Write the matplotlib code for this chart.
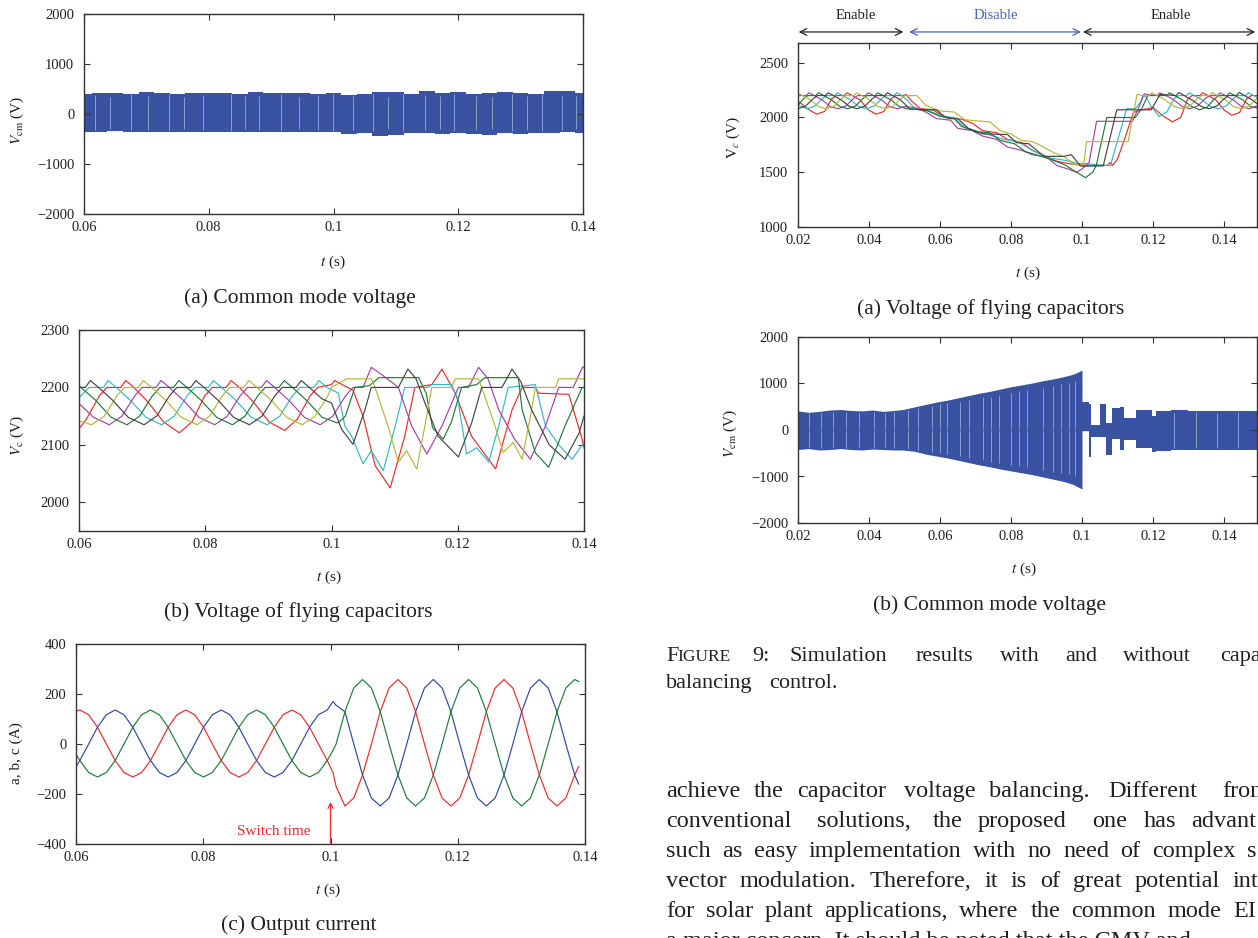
import matplotlib
matplotlib.use('Agg')
import matplotlib.pyplot as plt

# ---------------- data ----------------
# Left (a): common mode voltage envelope (V)
cmvL_t = [0.060, 0.0625, 0.065, 0.0675, 0.070, 0.0725, 0.075, 0.0775, 0.080, 0.0825, 0.085,
          0.0875, 0.090, 0.0925, 0.095, 0.0975, 0.100, 0.1025, 0.105, 0.1075, 0.110, 0.1125,
          0.115, 0.1175, 0.120, 0.1225, 0.125, 0.1275, 0.130, 0.1325, 0.135, 0.1375, 0.140]
cmvL_top = [400, 420, 410, 400, 430, 425, 400, 420, 410, 415, 400, 430, 420, 410, 420, 400, 410,
            380, 400, 440, 430, 400, 450, 410, 440, 400, 420, 440, 410, 400, 460, 450, 410]
cmvL_bot = [-360, -360, -350, -365, -355, -360, -370, -360, -355, -365, -370, -360, -355, -370,
            -360, -355, -370, -400, -390, -440, -420, -380, -380, -400, -380, -410, -420, -390,
            -400, -380, -390, -370, -390]
gapL_t = [0.0618, 0.0642, 0.0675, 0.0702, 0.0737, 0.0760, 0.0791, 0.0836, 0.0858, 0.0881, 0.0916,
          0.0944, 0.0975, 0.0999, 0.1031, 0.1063, 0.1088, 0.1112, 0.1146, 0.1170, 0.1193, 0.1228,
          0.1254, 0.1286, 0.1310, 0.1334, 0.1366, 0.1388]
gapL_lo = [-330, -300, -340, -320, -340, -300, -330, -340, -310, -320, -340, -300, -330, -340,
           -320, -340, -300, -340, -330, -310, -340, -320, -300, -340, -320, -340, -330, -310]
gapL_hi = [370, 330, 390, 350, 390, 340, 370, 390, 350, 360, 390, 340, 370, 390, 360, 390, 340,
           390, 370, 350, 390, 360, 340, 390, 360, 390, 370, 350]

# Left (b): flying capacitor voltages (V)
lb_red_t = [0.0600, 0.0612, 0.0632, 0.0644, 0.0666, 0.0674, 0.0687, 0.0709, 0.0734, 0.0759, 0.0779,
            0.0799, 0.0811, 0.0833, 0.0841, 0.0854, 0.0876, 0.0901, 0.0926, 0.0946, 0.0966, 0.0978,
            0.1000, 0.1005, 0.1034, 0.1050, 0.1069, 0.1093, 0.1116, 0.1132, 0.1159, 0.1175, 0.1196,
            0.1222, 0.1260, 0.1286, 0.1302, 0.1323, 0.1328, 0.1376, 0.1397, 0.1400]
lb_red_v = [2128, 2145, 2185, 2200, 2200, 2212, 2200, 2175, 2140, 2121, 2140, 2185, 2200, 2200, 2212,
            2200, 2175, 2140, 2125, 2145, 2185, 2200, 2205, 2212, 2195, 2150, 2064, 2025, 2115, 2200,
            2205, 2232, 2190, 2115, 2058, 2161, 2200, 2200, 2190, 2188, 2110, 2095]
lb_mag_t = [0.0600, 0.0623, 0.0648, 0.0668, 0.0688, 0.0700, 0.0722, 0.0730, 0.0743, 0.0765, 0.0790,
            0.0815, 0.0835, 0.0855, 0.0867, 0.0889, 0.0897, 0.0910, 0.0932, 0.0957, 0.0982, 0.1002,
            0.1022, 0.1034, 0.1050, 0.1063, 0.1080, 0.1106, 0.1127, 0.1151, 0.1175, 0.1201, 0.1217,
            0.1233, 0.1248, 0.1265, 0.1290, 0.1315, 0.1339, 0.1360, 0.1383, 0.1398, 0.1400]
lb_mag_v = [2172, 2148, 2135, 2150, 2185, 2200, 2200, 2212, 2200, 2178, 2148, 2135, 2150, 2185, 2200,
            2200, 2212, 2200, 2178, 2148, 2135, 2150, 2185, 2200, 2200, 2235, 2222, 2200, 2133, 2084,
            2133, 2200, 2200, 2235, 2215, 2161, 2110, 2075, 2133, 2200, 2200, 2236, 2234]
lb_grn_t = [0.0600, 0.0626, 0.0651, 0.0676, 0.0696, 0.0716, 0.0728, 0.0750, 0.0758, 0.0771, 0.0793,
            0.0818, 0.0843, 0.0863, 0.0883, 0.0895, 0.0917, 0.0925, 0.0938, 0.0960, 0.0985, 0.1010,
            0.1022, 0.1037, 0.1060, 0.1075, 0.1138, 0.1150, 0.1160, 0.1177, 0.1190, 0.1206, 0.1230,
            0.1243, 0.1296, 0.1302, 0.1323, 0.1344, 0.1370, 0.1397, 0.1400]
lb_grn_v = [2203, 2178, 2148, 2135, 2150, 2185, 2200, 2200, 2212, 2200, 2178, 2148, 2135, 2150, 2185,
            2200, 2200, 2212, 2200, 2178, 2148, 2138, 2150, 2200, 2203, 2217, 2217, 2190, 2130, 2110,
            2140, 2200, 2205, 2217, 2217, 2161, 2086, 2061, 2133, 2200, 2200]
lb_blk_t = [0.0600, 0.0610, 0.0618, 0.0631, 0.0653, 0.0678, 0.0703, 0.0723, 0.0743, 0.0755, 0.0777,
            0.0785, 0.0798, 0.0820, 0.0845, 0.0870, 0.0890, 0.0910, 0.0922, 0.0944, 0.0952, 0.0965,
            0.0985, 0.1000, 0.1016, 0.1034, 0.1053, 0.1063, 0.1106, 0.1121, 0.1134, 0.1148, 0.1169,
            0.1201, 0.1222, 0.1238, 0.1270, 0.1286, 0.1300, 0.1317, 0.1345, 0.1370, 0.1392, 0.1400]
lb_blk_v = [2200, 2200, 2212, 2200, 2178, 2148, 2135, 2150, 2185, 2200, 2200, 2212, 2200, 2178, 2148,
            2135, 2150, 2185, 2200, 2200, 2212, 2200, 2180, 2173, 2127, 2101, 2161, 2200, 2200, 2232,
            2215, 2173, 2115, 2079, 2138, 2200, 2200, 2232, 2210, 2161, 2100, 2075, 2120, 2150]
lb_cyn_t = [0.0600, 0.0616, 0.0639, 0.0646, 0.0659, 0.0681, 0.0706, 0.0731, 0.0751, 0.0771, 0.0783,
            0.0805, 0.0813, 0.0826, 0.0848, 0.0873, 0.0898, 0.0918, 0.0938, 0.0950, 0.0972, 0.0980,
            0.0993, 0.1011, 0.1021, 0.1032, 0.1050, 0.1063, 0.1082, 0.1101, 0.1116, 0.1153, 0.1159,
            0.1190, 0.1200, 0.1214, 0.1230, 0.1249, 0.1265, 0.1280, 0.1323, 0.1339, 0.1360, 0.1381,
            0.1400]
lb_cyn_v = [2182, 2200, 2200, 2212, 2200, 2178, 2148, 2135, 2150, 2185, 2200, 2200, 2212, 2200, 2178,
            2148, 2135, 2150, 2185, 2200, 2200, 2212, 2200, 2190, 2133, 2115, 2067, 2090, 2055, 2133,
            2200, 2200, 2205, 2205, 2180, 2084, 2095, 2070, 2133, 2200, 2205, 2133, 2100, 2075, 2104]
lb_yel_t = [0.0600, 0.0620, 0.0640, 0.0660, 0.0672, 0.0694, 0.0702, 0.0715, 0.0737, 0.0762, 0.0787,
            0.0807, 0.0827, 0.0839, 0.0861, 0.0869, 0.0882, 0.0904, 0.0929, 0.0954, 0.0974, 0.0994,
            0.1000, 0.1024, 0.1063, 0.1069, 0.1090, 0.1106, 0.1119, 0.1135, 0.1148, 0.1159, 0.1190,
            0.1196, 0.1233, 0.1243, 0.1259, 0.1272, 0.1288, 0.1302, 0.1317, 0.1323, 0.1355, 0.1360,
            0.1400]
lb_yel_v = [2142, 2135, 2150, 2185, 2200, 2200, 2212, 2200, 2178, 2148, 2135, 2150, 2185, 2200, 2200,
            2212, 2200, 2178, 2148, 2135, 2150, 2185, 2200, 2215, 2215, 2200, 2131, 2070, 2090, 2058,
            2133, 2200, 2200, 2215, 2215, 2184, 2133, 2087, 2104, 2075, 2161, 2200, 2200, 2215, 2215]

# Left (c): output currents (A)
cur_t = [0.06000, 0.06060, 0.06199, 0.06338, 0.06477, 0.06616, 0.06754, 0.06893, 0.07032, 0.07171,
         0.07310, 0.07449, 0.07588, 0.07727, 0.07866, 0.08004, 0.08143, 0.08282, 0.08421, 0.08560,
         0.08699, 0.08838, 0.08977, 0.09116, 0.09254, 0.09393, 0.09532, 0.09671, 0.09810, 0.09949,
         0.10040, 0.10088, 0.10227, 0.10366, 0.10504, 0.10643, 0.10782, 0.10921, 0.11060, 0.11199,
         0.11338, 0.11477, 0.11616, 0.11754, 0.11893, 0.12032, 0.12171, 0.12310, 0.12449, 0.12588,
         0.12727, 0.12866, 0.13004, 0.13143, 0.13282, 0.13421, 0.13560, 0.13699, 0.13838, 0.13900]
cur_a = [132, 136, 117, 67, 0, -66, -114, -132, -114, -66, 0, 67, 117, 136, 117, 67, 0, -66, -114,
         -132, -114, -66, 0, 67, 117, 136, 117, 67, 0, -66, -115, -170, -248, -216, -124, 0, 129, 224,
         258, 224, 129, 0, -124, -216, -248, -216, -124, 0, 129, 224, 258, 224, 129, 0, -124, -216,
         -248, -216, -124, -90]
cur_b = [-90, -66, 0, 67, 117, 136, 117, 67, 0, -66, -114, -132, -114, -66, 0, 67, 117, 136, 117, 67,
         0, -66, -114, -132, -114, -66, 0, 67, 117, 136, 170, 155, 129, 0, -124, -216, -248, -216,
         -124, 0, 129, 224, 258, 224, 129, 0, -124, -216, -248, -216, -124, 0, 129, 224, 258, 224,
         129, 0, -124, -160]
cur_c = [-40, -66, -114, -132, -114, -66, 0, 67, 117, 136, 117, 67, 0, -66, -114, -132, -114, -66, 0,
         67, 117, 136, 117, 67, 0, -66, -114, -132, -114, -66, -25, 0, 129, 224, 258, 224, 129, 0,
         -124, -216, -248, -216, -124, 0, 129, 224, 258, 224, 129, 0, -124, -216, -248, -216, -124,
         0, 129, 224, 258, 250]

# Right (a): flying capacitor voltages with balancing enabled/disabled (V)
ra_red_t = [0.0200, 0.0231, 0.0253, 0.0275, 0.0295, 0.0308, 0.0330, 0.0338, 0.0350, 0.0375, 0.0398,
            0.0420, 0.0442, 0.0462, 0.0475, 0.0497, 0.0505, 0.0520, 0.0545, 0.0580, 0.0600, 0.0625,
            0.0660, 0.0690, 0.0720, 0.0760, 0.0790, 0.0830, 0.0860, 0.0900, 0.0930, 0.0960, 0.1000,
            0.1050, 0.1072, 0.1079, 0.1086, 0.1100, 0.1125, 0.1145, 0.1170, 0.1200, 0.1230, 0.1255,
            0.1278, 0.1298, 0.1310, 0.1332, 0.1340, 0.1352, 0.1377, 0.1400, 0.1422, 0.1444, 0.1464,
            0.1477, 0.1495]
ra_red_v = [2150, 2070, 2030, 2055, 2170, 2200, 2200, 2225, 2205, 2160, 2070, 2030, 2055, 2170, 2200,
            2200, 2210, 2150, 2080, 2070, 2030, 1990, 1985, 1950, 1880, 1860, 1800, 1770, 1700, 1640,
            1600, 1580, 1565, 1560, 1562, 1590, 1562, 1620, 1850, 2047, 2070, 2090, 2010, 1960, 2000,
            2170, 2200, 2200, 2225, 2205, 2160, 2070, 2020, 2045, 2170, 2200, 2200]
ra_mag_t = [0.0200, 0.0223, 0.0231, 0.0243, 0.0268, 0.0291, 0.0313, 0.0335, 0.0355, 0.0368, 0.0390,
            0.0398, 0.0410, 0.0435, 0.0458, 0.0480, 0.0500, 0.0530, 0.0560, 0.0590, 0.0630, 0.0650,
            0.0690, 0.0720, 0.0760, 0.0790, 0.0830, 0.0860, 0.0900, 0.0930, 0.0960, 0.0985, 0.1000,
            0.1020, 0.1041, 0.1142, 0.1160, 0.1175, 0.1212, 0.1219, 0.1234, 0.1259, 0.1282, 0.1304,
            0.1326, 0.1346, 0.1359, 0.1381, 0.1389, 0.1401, 0.1426, 0.1449, 0.1471, 0.1493]
ra_mag_v = [2200, 2200, 2225, 2205, 2160, 2100, 2080, 2105, 2170, 2200, 2200, 2225, 2205, 2160, 2100,
            2080, 2100, 2090, 2050, 1990, 1975, 1900, 1880, 1830, 1800, 1730, 1700, 1660, 1640, 1560,
            1530, 1500, 1530, 1590, 1965, 1965, 2090, 2215, 2200, 2225, 2205, 2160, 2100, 2080, 2105,
            2170, 2200, 2200, 2225, 2205, 2160, 2100, 2080, 2105]
ra_grn_t = [0.0200, 0.0215, 0.0228, 0.0250, 0.0258, 0.0270, 0.0295, 0.0318, 0.0340, 0.0362, 0.0382,
            0.0395, 0.0417, 0.0425, 0.0437, 0.0462, 0.0485, 0.0507, 0.0530, 0.0565, 0.0600, 0.0640,
            0.0660, 0.0700, 0.0740, 0.0770, 0.0810, 0.0840, 0.0880, 0.0910, 0.0950, 0.0985, 0.1010,
            0.1030, 0.1040, 0.1070, 0.1150, 0.1170, 0.1185, 0.1238, 0.1246, 0.1258, 0.1283, 0.1309,
            0.1331, 0.1353, 0.1373, 0.1386, 0.1408, 0.1416, 0.1428, 0.1453, 0.1476, 0.1495]
ra_grn_v = [2110, 2170, 2200, 2200, 2225, 2205, 2160, 2100, 2080, 2105, 2170, 2200, 2200, 2225, 2205,
            2160, 2100, 2080, 2075, 2060, 2010, 1990, 1920, 1870, 1860, 1790, 1760, 1690, 1650, 1620,
            1570, 1500, 1450, 1500, 1560, 2000, 2000, 2090, 2200, 2200, 2225, 2205, 2160, 2100, 2070,
            2095, 2170, 2200, 2200, 2225, 2205, 2160, 2100, 2085]
ra_blk_t = [0.0200, 0.0222, 0.0242, 0.0255, 0.0277, 0.0285, 0.0297, 0.0322, 0.0345, 0.0367, 0.0389,
            0.0409, 0.0422, 0.0444, 0.0452, 0.0464, 0.0489, 0.0505, 0.0515, 0.0590, 0.0615, 0.0650,
            0.0680, 0.0720, 0.0790, 0.0815, 0.0850, 0.0880, 0.0895, 0.0950, 0.0970, 0.0995, 0.1000,
            0.1060, 0.1098, 0.1195, 0.1220, 0.1265, 0.1273, 0.1285, 0.1310, 0.1336, 0.1358, 0.1380,
            0.1400, 0.1413, 0.1435, 0.1443, 0.1455, 0.1480, 0.1495]
ra_blk_v = [2080, 2105, 2170, 2200, 2200, 2225, 2205, 2160, 2100, 2080, 2105, 2170, 2200, 2200, 2225,
            2205, 2160, 2110, 2075, 2070, 2000, 1990, 1900, 1850, 1845, 1770, 1760, 1680, 1645, 1645,
            1660, 1560, 1555, 1560, 2070, 2070, 2210, 2200, 2228, 2205, 2160, 2100, 2080, 2105, 2170,
            2200, 2200, 2228, 2205, 2160, 2120]
ra_cyn_t = [0.0200, 0.0226, 0.0248, 0.0268, 0.0281, 0.0303, 0.0311, 0.0323, 0.0348, 0.0371, 0.0393,
            0.0415, 0.0435, 0.0448, 0.0470, 0.0478, 0.0490, 0.0510, 0.0530, 0.0570, 0.0600, 0.0640,
            0.0670, 0.0710, 0.0750, 0.0780, 0.0820, 0.0850, 0.0880, 0.0910, 0.0950, 0.0990, 0.1000,
            0.1080, 0.1126, 0.1150, 0.1165, 0.1172, 0.1180, 0.1195, 0.1217, 0.1239, 0.1259, 0.1272,
            0.1294, 0.1302, 0.1314, 0.1339, 0.1362, 0.1384, 0.1406, 0.1426, 0.1439, 0.1461, 0.1469,
            0.1481, 0.1495]
ra_cyn_v = [2115, 2080, 2105, 2170, 2200, 2200, 2225, 2205, 2160, 2100, 2080, 2105, 2170, 2200, 2200,
            2225, 2205, 2150, 2080, 2060, 2020, 1995, 1910, 1870, 1830, 1800, 1780, 1720, 1670, 1630,
            1610, 1580, 1580, 1560, 2080, 2080, 2140, 2200, 2190, 2100, 2010, 2050, 2170, 2200, 2200,
            2225, 2205, 2160, 2100, 2080, 2105, 2170, 2200, 2200, 2225, 2205, 2180]
ra_yel_t = [0.0200, 0.0210, 0.0235, 0.0258, 0.0280, 0.0302, 0.0322, 0.0335, 0.0357, 0.0365, 0.0377,
            0.0402, 0.0425, 0.0447, 0.0469, 0.0489, 0.0502, 0.0520, 0.0535, 0.0560, 0.0600, 0.0640,
            0.0670, 0.0700, 0.0740, 0.0770, 0.0800, 0.0830, 0.0860, 0.0880, 0.0920, 0.0950, 0.0980,
            0.1000, 0.1005, 0.1013, 0.1130, 0.1155, 0.1170, 0.1189, 0.1197, 0.1209, 0.1234, 0.1260,
            0.1282, 0.1304, 0.1324, 0.1337, 0.1359, 0.1367, 0.1379, 0.1404, 0.1427, 0.1449, 0.1471,
            0.1491, 0.1495]
ra_yel_v = [2220, 2205, 2160, 2100, 2080, 2105, 2170, 2200, 2200, 2225, 2205, 2160, 2100, 2080, 2105,
            2170, 2200, 2200, 2200, 2110, 2060, 2050, 1980, 1970, 1960, 1880, 1850, 1790, 1780, 1750,
            1680, 1640, 1570, 1565, 1580, 1780, 1780, 2210, 2200, 2200, 2225, 2205, 2160, 2100, 2080,
            2105, 2170, 2200, 2200, 2225, 2205, 2160, 2100, 2080, 2105, 2170, 2180]

# Right (b): common mode voltage envelope (V)
cmvR1_t = [0.0200, 0.0230, 0.0260, 0.0290, 0.0320, 0.0350, 0.0380, 0.0410, 0.0440, 0.0470, 0.0495,
           0.0530, 0.0560, 0.0590, 0.0620, 0.0650, 0.0680, 0.0710, 0.0740, 0.0770, 0.0800, 0.0830,
           0.0860, 0.0890, 0.0920, 0.0950, 0.0975, 0.0990, 0.1000]
cmvR1_top = [410, 380, 400, 430, 440, 420, 410, 430, 400, 420, 440, 500, 550, 600, 640, 690, 740,
             790, 830, 880, 930, 970, 1010, 1060, 1100, 1150, 1200, 1250, 1290]
cmvR1_bot = [-420, -400, -430, -420, -400, -420, -430, -410, -420, -430, -430, -460, -520, -560,
             -600, -650, -700, -750, -790, -840, -880, -920, -960, -1010, -1060, -1110, -1170,
             -1230, -1270]
cmvR2_t = [0.1000, 0.1020, 0.1024, 0.1052, 0.1068, 0.1085, 0.1108, 0.1119, 0.1152, 0.1165, 0.1197,
           0.1208, 0.1250, 0.1300, 0.1350, 0.1400, 0.1450, 0.1495]
cmvR2_top = [600, 560, 100, 560, 140, 480, 490, 260, 420, 420, 300, 400, 420, 410, 400, 410, 400,
             400]
cmvR2_bot = [-30, -580, -150, -150, -540, -200, -430, -220, -390, -390, -470, -450, -430, -440,
             -440, -420, -430, -420]
gapR_t = [0.0232, 0.0264, 0.0300, 0.0336, 0.0372, 0.0414, 0.0446, 0.0470, 0.0510, 0.0537, 0.0577,
          0.0600, 0.0621, 0.0655, 0.0683, 0.0722, 0.0745, 0.0767, 0.0800, 0.0822, 0.0845, 0.0890,
          0.0917, 0.0940, 0.0962, 0.0979, 0.1260, 0.1320, 0.1380, 0.1440]
gapR_lo = [-370, -380, -360, -380, -370, -380, -360, -380, -400, -430, -480, -500, -520, -560, -600,
           -650, -680, -700, -750, -770, -800, -850, -900, -920, -950, -1000, -380, -390, -380, -390]
gapR_hi = [360, 360, 380, 380, 370, 380, 360, 380, 420, 480, 520, 550, 580, 610, 640, 700, 720, 750,
           800, 830, 850, 900, 950, 980, 1000, 1050, 370, 380, 370, 380]
zeroR_t = [0.020, 0.1205]
zeroR_v = [0, 0]

xt_left = [0.06, 0.08, 0.10, 0.12, 0.14]
xt_left_lab = ['0.06', '0.08', '0.1', '0.12', '0.14']
xt_right = [0.02, 0.04, 0.06, 0.08, 0.10, 0.12, 0.14]
xt_right_lab = ['0.02', '0.04', '0.06', '0.08', '0.1', '0.12', '0.14']

# ---------------- style ----------------
plt.rcParams['font.family'] = ['Liberation Serif', 'DejaVu Serif']
plt.rcParams['mathtext.fontset'] = 'stix'
plt.rcParams['axes.unicode_minus'] = True

W, H = 1258, 938
fig = plt.figure(figsize=(W / 100, H / 100), dpi=100)

C_BLUE = '#3a52a2'
C_GAP = '#8d9ed0'
C_RED = '#ee2a2a'
C_MAG = '#a542a5'
C_GRN = '#1f7c36'
C_CYN = '#35b8c4'
C_YEL = '#b7b73a'
C_BLK = '#444444'
TXT = '#231f20'
TICK_FS = 10.5
CAP_FS = 15.5


def px_axes(x0, y0, x1, y1):
    return fig.add_axes([x0 / W, 1 - y1 / H, (x1 - x0) / W, (y1 - y0) / H])


def style(ax):
    for s in ax.spines.values():
        s.set_color('#333333')
        s.set_linewidth(1.0)
    ax.tick_params(direction='in', length=4, width=0.8, top=True, right=True,
                   labelsize=TICK_FS, colors='#333333', labelcolor=TXT)
    ax.tick_params(axis='y', pad=7)
    ax.tick_params(axis='x', pad=5)


def ftext(x, y, s, **kw):
    kw.setdefault('ha', 'center')
    kw.setdefault('va', 'center')
    kw.setdefault('color', TXT)
    return fig.text(x / W, 1 - y / H, s, **kw)


LW = 0.85

# ---- Left (a) ----
ax = px_axes(84, 14, 583, 214)
style(ax)
ax.fill_between(cmvL_t, cmvL_bot, cmvL_top, step='mid', color=C_BLUE, lw=0)
ax.vlines(gapL_t, gapL_lo, gapL_hi, color=C_GAP, lw=0.7)
ax.set_xlim(0.06, 0.14)
ax.set_ylim(-2000, 2000)
ax.set_xticks(xt_left)
ax.set_xticklabels(xt_left_lab)
ax.set_yticks([-2000, -1000, 0, 1000, 2000])
ftext(17, 120, r'$V_{\mathrm{cm}}$ (V)', rotation=90, fontsize=11)
ftext(333, 262, r'$t$ (s)', fontsize=11)
ftext(300, 298, '(a) Common mode voltage', fontsize=CAP_FS)

# ---- Left (b) ----
ax = px_axes(79, 330, 584, 531)
style(ax)
for tt, vv, cc in [(lb_red_t, lb_red_v, C_RED), (lb_cyn_t, lb_cyn_v, C_CYN),
                   (lb_mag_t, lb_mag_v, C_MAG), (lb_grn_t, lb_grn_v, C_GRN),
                   (lb_yel_t, lb_yel_v, C_YEL), (lb_blk_t, lb_blk_v, C_BLK)]:
    ax.plot(tt, vv, color=cc, lw=LW)
ax.set_xlim(0.06, 0.14)
ax.set_ylim(1950, 2300)
ax.set_xticks(xt_left)
ax.set_xticklabels(xt_left_lab)
ax.set_yticks([2000, 2100, 2200, 2300])
ftext(17, 435, r'$V_{\mathrm{c}}$ (V)', rotation=90, fontsize=11)
ftext(329, 577, r'$t$ (s)', fontsize=11)
ftext(298, 612, '(b) Voltage of flying capacitors', fontsize=CAP_FS)

# ---- Left (c) ----
ax = px_axes(76, 644, 585, 844)
style(ax)
ax.plot(cur_t, cur_a, color=C_RED, lw=LW)
ax.plot(cur_t, cur_b, color='#2d4aa0', lw=LW)
ax.plot(cur_t, cur_c, color=C_GRN, lw=LW)
ax.set_xlim(0.06, 0.14)
ax.set_ylim(-400, 400)
ax.set_xticks(xt_left)
ax.set_xticklabels(xt_left_lab)
ax.set_yticks([-400, -200, 0, 200, 400])
ax.annotate('', xy=(0.1, -232), xytext=(0.1, -400),
            arrowprops=dict(arrowstyle='->', color=C_RED, lw=0.9, shrinkA=0, shrinkB=0,
                            mutation_scale=9))
ax.text(0.0911, -348, 'Switch time', color=C_RED, fontsize=11, ha='center', va='center')
ftext(16, 753, 'a, b, c (A)', rotation=90, fontsize=11)
ftext(328, 890, r'$t$ (s)', fontsize=11)
ftext(299, 925, '(c) Output current', fontsize=CAP_FS)

# ---- Right (a) ----
ax = px_axes(798, 43, 1257, 227)
style(ax)
for tt, vv, cc in [(ra_red_t, ra_red_v, C_RED), (ra_cyn_t, ra_cyn_v, C_CYN),
                   (ra_mag_t, ra_mag_v, C_MAG), (ra_grn_t, ra_grn_v, C_GRN),
                   (ra_yel_t, ra_yel_v, C_YEL), (ra_blk_t, ra_blk_v, C_BLK)]:
    ax.plot(tt, vv, color=cc, lw=LW)
ax.set_xlim(0.02, 0.1493)
ax.set_ylim(1000, 2680)
ax.set_xticks(xt_right)
ax.set_xticklabels(xt_right_lab)
ax.set_yticks([1000, 1500, 2000, 2500])
tr = ax.get_xaxis_transform()
for x0, x1, cc in [(0.0202, 0.0497, '#222222'), (0.0513, 0.0997, '#4a62b4'),
                   (0.1003, 0.1488, '#222222')]:
    ax.annotate('', xy=(x1, 1.06), xytext=(x0, 1.06), xycoords=tr, textcoords=tr,
                arrowprops=dict(arrowstyle='<->', color=cc, lw=0.9, shrinkA=0, shrinkB=0,
                                mutation_scale=12), annotation_clip=False)
ax.text(0.0362, 1.147, 'Enable', transform=tr, ha='center', va='center', fontsize=10.5, color=TXT)
ax.text(0.0757, 1.147, 'Disable', transform=tr, ha='center', va='center', fontsize=10.5,
        color='#4a62b4')
ax.text(0.1250, 1.147, 'Enable', transform=tr, ha='center', va='center', fontsize=10.5, color=TXT)
ftext(733, 137, r'$\mathrm{V}_{c}$ (V)', rotation=90, fontsize=11)
ftext(1028, 273, r'$t$ (s)', fontsize=11)
ftext(991, 309, '(a) Voltage of flying capacitors', fontsize=CAP_FS)

# ---- Right (b) ----
ax = px_axes(798, 337, 1257, 523)
style(ax)
ax.fill_between(cmvR1_t, cmvR1_bot, cmvR1_top, color=C_BLUE, lw=0)
ax.fill_between(cmvR2_t, cmvR2_bot, cmvR2_top, step='post', color=C_BLUE, lw=0)
ax.vlines(gapR_t, gapR_lo, gapR_hi, color=C_GAP, lw=0.7)
ax.plot(zeroR_t, zeroR_v, color=C_BLUE, lw=1.0)
ax.set_xlim(0.02, 0.1493)
ax.set_ylim(-2000, 2000)
ax.set_xticks(xt_right)
ax.set_xticklabels(xt_right_lab)
ax.set_yticks([-2000, -1000, 0, 1000, 2000])
ftext(730, 433, r'$V_{\mathrm{cm}}$ (V)', rotation=90, fontsize=11)
ftext(1024, 569, r'$t$ (s)', fontsize=11)
ftext(989, 605, '(b) Common mode voltage', fontsize=CAP_FS)

# ---------------- page text ----------------
BODY = 17.5
CAPT = 16
renderer = fig.canvas.get_renderer()


def word_line(y, words, fs):
    for x, w in words:
        ftext(x, y, w, ha='left', va='baseline', fontsize=fs)


def justified(y, words, x_first, x_last, fs):
    # lay words out so that the first starts at x_first and the last at x_last
    objs = [ftext(x_first, y, w, ha='left', va='baseline', fontsize=fs) for w in words]
    widths = [o.get_window_extent(renderer).width for o in objs]
    gap = (x_last - x_first - sum(widths[:-1])) / (len(words) - 1)
    x = x_first
    for o, wd in zip(objs, widths):
        o.set_x(x / W)
        x += wd + gap


ftext(666, 661, 'F', ha='left', va='baseline', fontsize=CAPT)
ftext(677, 661, 'IGURE', ha='left', va='baseline', fontsize=12.5)
word_line(661, [(752, '9:'), (789, 'Simulation'), (916, 'results'), (1000, 'with'),
                (1065, 'and'), (1123, 'without'), (1220, 'capa')], CAPT)
word_line(688, [(666, 'balancing'), (769, 'control.')], CAPT)
word_line(797, [(666, 'achieve'), (754, 'the'), (797, 'capacitor'), (904, 'voltage'),
                (989, 'balancing.'), (1108, 'Different'), (1222, 'from')], BODY)
word_line(827, [(666, 'conventional'), (817, 'solutions,'), (933, 'the'), (978, 'proposed'),
                (1092, 'one'), (1144, 'has'), (1191, 'advant')], BODY)
justified(857, 'such as easy implementation with no need of complex s'.split(), 666, 1247, BODY)
justified(887, 'vector modulation. Therefore, it is of great potential int'.split(), 666, 1233,
          BODY)
justified(917, 'for solar plant applications, where the common mode EI'.split(), 666, 1233, BODY)
ftext(666, 947, 'a major concern. It should be noted that the CMV and', ha='left',
      va='baseline', fontsize=BODY)

fig.savefig('out.png', dpi=100)
